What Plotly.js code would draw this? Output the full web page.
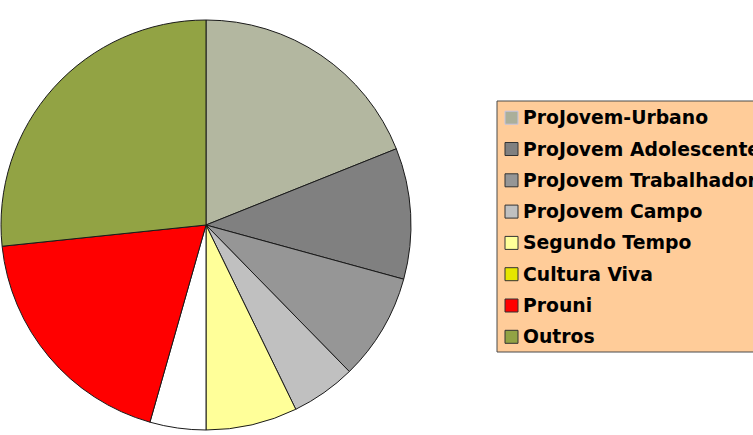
<!DOCTYPE html>
<html>
<head>
<meta charset="utf-8">
<script src="https://cdn.plot.ly/plotly-3.0.1.min.js"></script>
<style>html,body{margin:0;padding:0;background:#fff;}#chart{width:753px;height:435px;}</style>
</head>
<body>
<div id="chart"></div>
<script>
const categories = ["ProJovem-Urbano", "ProJovem Adolescente", "ProJovem Trabalhador", "ProJovem Campo", "Segundo Tempo", "Cultura Viva", "Prouni", "Outros"];
const shares = [18.9, 10.3, 8.4, 5.1, 7.2, 4.4, 18.9, 26.6];
const sliceColors = ["#B3B7A0", "#808080", "#969696", "#C0C0C0", "#FFFF99", "#FFFFFF", "#FF0000", "#92A344"];
const legendColors = ["#ABAF9A", "#808080", "#969696", "#C0C0C0", "#FFFF99", "#E6E600", "#FF0000", "#92A344"];

const W = 753, H = 435;
const px = v => v / W;
const py = v => 1 - v / H;

const trace = {
  type: "pie",
  labels: categories,
  values: shares,
  sort: false,
  direction: "clockwise",
  rotation: 0,
  textinfo: "none",
  textposition: "none",
  hoverinfo: "label+percent",
  showlegend: false,
  marker: { colors: sliceColors, line: { color: "#1a1a1a", width: 1 } },
  domain: { x: [px(1), px(411)], y: [py(430), py(20)] }
};

const shapes = [{
  type: "rect", xref: "paper", yref: "paper",
  x0: px(497), x1: px(770), y0: py(352), y1: py(101),
  fillcolor: "#FFCC99", line: { color: "#4a4a4a", width: 1 }
}];
const annotations = [];
const rowTop = 117.7, rowStep = 31.3;
categories.forEach((c, i) => {
  const yc = rowTop + i * rowStep;
  shapes.push({
    type: "rect", xref: "paper", yref: "paper",
    x0: px(505), x1: px(518), y0: py(yc + 6.5), y1: py(yc - 6.5),
    fillcolor: legendColors[i],
    line: { color: i === 0 ? "#C4C4E0" : "#333333", width: 1 }
  });
  annotations.push({
    xref: "paper", yref: "paper", x: px(521), y: py(yc),
    xanchor: "left", yanchor: "middle", showarrow: false,
    text: c,
    font: { family: "DejaVu Sans", size: 18.8, color: "#000000", weight: "bold" }
  });
});

const layout = {
  width: W, height: H,
  margin: { l: 0, r: 0, t: 0, b: 0 },
  paper_bgcolor: "#FFFFFF",
  plot_bgcolor: "#FFFFFF",
  showlegend: false,
  shapes: shapes,
  annotations: annotations
};

Plotly.newPlot("chart", [trace], layout, { displayModeBar: false, staticPlot: true });
</script>
</body>
</html>
